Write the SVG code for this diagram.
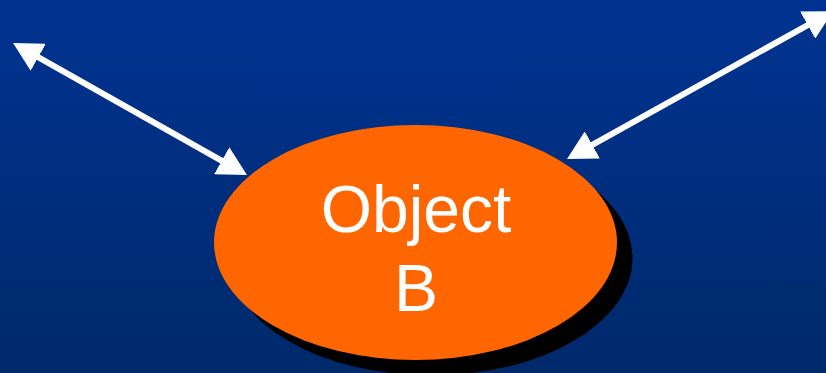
<svg xmlns="http://www.w3.org/2000/svg" width="826" height="373" viewBox="0 0 826 373">
  <style>
    .conn { stroke: #FFFFFF; stroke-width: 6; fill: none; marker-start: url(#head); marker-end: url(#head); }
    .label { font-family: "Liberation Sans", Arial, sans-serif; font-size: 66px; fill: #FFFFFF; text-anchor: middle; }
  </style>
  <defs>
    <linearGradient id="bg" x1="0" y1="0" x2="0" y2="1">
      <stop offset="0" stop-color="#003392"/>
      <stop offset="1" stop-color="#00296A"/>
    </linearGradient>
    <marker id="head" markerUnits="userSpaceOnUse" viewBox="0 0 29 31" markerWidth="29" markerHeight="31" refX="14" refY="15.5" orient="auto-start-reverse">
      <path d="M0,0 L29,15.5 L0,31 z" fill="#FFFFFF"/>
    </marker>
  </defs>
  <rect x="0" y="0" width="826" height="373" fill="url(#bg)"/>
  <g id="connectors">
    <path class="conn" d="M26.1,50.4 L233.9,167.6"/>
    <path class="conn" d="M580.1,151.7 L819.9,18.3"/>
  </g>
  <g id="objectB">
    <ellipse cx="431" cy="258" rx="201.5" ry="117.5" fill="#000000"/>
    <ellipse cx="415.5" cy="242.5" rx="201.5" ry="117.5" fill="#FF6600"/>
    <text class="label" x="416" y="232">Object</text>
    <text class="label" x="416" y="311">B</text>
  </g>
</svg>
